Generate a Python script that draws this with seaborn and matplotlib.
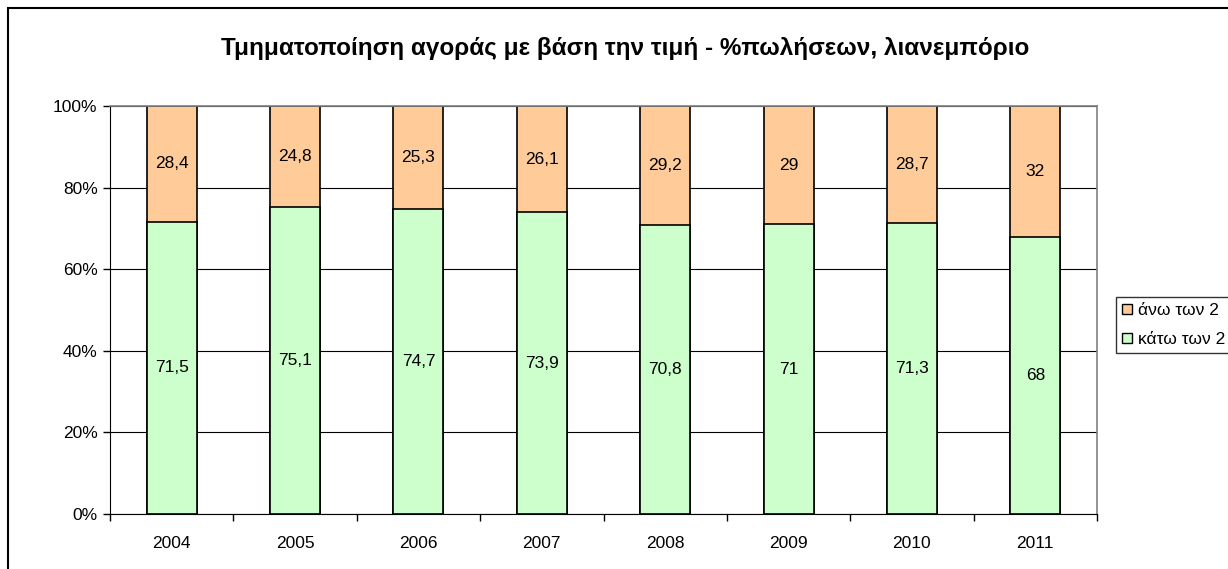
import matplotlib
matplotlib.use("Agg")
import matplotlib.pyplot as plt
import seaborn as sns
import pandas as pd
from matplotlib.patches import Patch, Rectangle
from matplotlib.ticker import FixedLocator, PercentFormatter

years = ["2004", "2005", "2006", "2007", "2008", "2009", "2010", "2011"]
below = [71.5, 75.1, 74.7, 73.9, 70.8, 71, 71.3, 68]
above = [28.4, 24.8, 25.3, 26.1, 29.2, 29, 28.7, 32]
below_txt = ["71,5", "75,1", "74,7", "73,9", "70,8", "71", "71,3", "68"]
above_txt = ["28,4", "24,8", "25,3", "26,1", "29,2", "29", "28,7", "32"]
labels = ["άνω των 2", "κάτω των 2"]
title = "Τμηματοποίηση αγοράς με βάση την τιμή - %πωλήσεων, λιανεμπόριο"

orange = "#FFCC99"
green = "#CCFFCC"

# 100% stacked: normalise each year
df = pd.DataFrame({"year": years, "below": below, "above": above})
df["total"] = df["below"] + df["above"]
df["below_pct"] = df["below"] / df["total"] * 100
df["full"] = 100.0

sns.set_style("white")
plt.rcParams["font.family"] = ["Liberation Sans", "DejaVu Sans"]
plt.rcParams["text.color"] = "black"
plt.rcParams["xtick.color"] = "black"
plt.rcParams["ytick.color"] = "black"

fs = 12.5

fig = plt.figure(figsize=(12.28, 5.69), dpi=100)
ax = fig.add_axes([0.0896, 0.0967, 0.8037, 0.7170])

sns.barplot(data=df, x="year", y="full", color=orange, width=0.405,
            edgecolor="black", linewidth=1.2, saturation=1, ax=ax)
sns.barplot(data=df, x="year", y="below_pct", color=green, width=0.405,
            edgecolor="black", linewidth=1.2, saturation=1, ax=ax)

# value labels in the middle of each segment
for i in range(len(years)):
    b = df["below_pct"][i]
    ax.text(i, b / 2, below_txt[i], ha="center", va="center", fontsize=fs)
    ax.text(i, b + (100 - b) / 2, above_txt[i], ha="center", va="center", fontsize=fs)

ax.set_ylim(0, 100)
ax.set_xlim(-0.5, len(years) - 0.5)
ax.yaxis.set_major_locator(FixedLocator([0, 20, 40, 60, 80, 100]))
ax.yaxis.set_major_formatter(PercentFormatter(decimals=0))
ax.grid(axis="y", color="black", linewidth=0.8)
ax.set_axisbelow(True)
ax.set_xlabel("")
ax.set_ylabel("")

for s in ["top", "right"]:
    ax.spines[s].set_color("#808080")
    ax.spines[s].set_linewidth(1.2)
ax.spines["left"].set_color("black")
ax.spines["bottom"].set_color("black")

ax.tick_params(axis="y", left=True, length=5, width=1, labelsize=fs, pad=4)
ax.tick_params(axis="x", bottom=False, labelsize=fs, pad=12)
ax.set_xticks(range(len(years)))
ax.set_xticks([i - 0.5 for i in range(len(years) + 1)], minor=True)
ax.tick_params(axis="x", which="minor", bottom=True, length=5, width=1)

fig.text(0.509, 0.915, title, ha="center", va="center", fontsize=17.5,
         fontweight="bold")

handles = [Patch(facecolor=orange, edgecolor="black", linewidth=1),
           Patch(facecolor=green, edgecolor="black", linewidth=1)]
leg = fig.legend(handles, labels, loc="center left", bbox_to_anchor=(1116 / 1228, 0.4288),
                 borderaxespad=0, fontsize=fs, frameon=True, fancybox=False,
                 edgecolor="black", handlelength=0.55, handleheight=0.55,
                 handletextpad=0.35, labelspacing=0.8, borderpad=0.35)
leg.get_frame().set_linewidth(1)

# outer chart border (right and bottom edges fall outside the image)
fig.patches.append(Rectangle((8 / 1228, -0.1), 1.2, 1 - 8 / 569 + 0.1,
                             transform=fig.transFigure, fill=False,
                             edgecolor="black", linewidth=1.5))

fig.savefig("out.png", dpi=100)
